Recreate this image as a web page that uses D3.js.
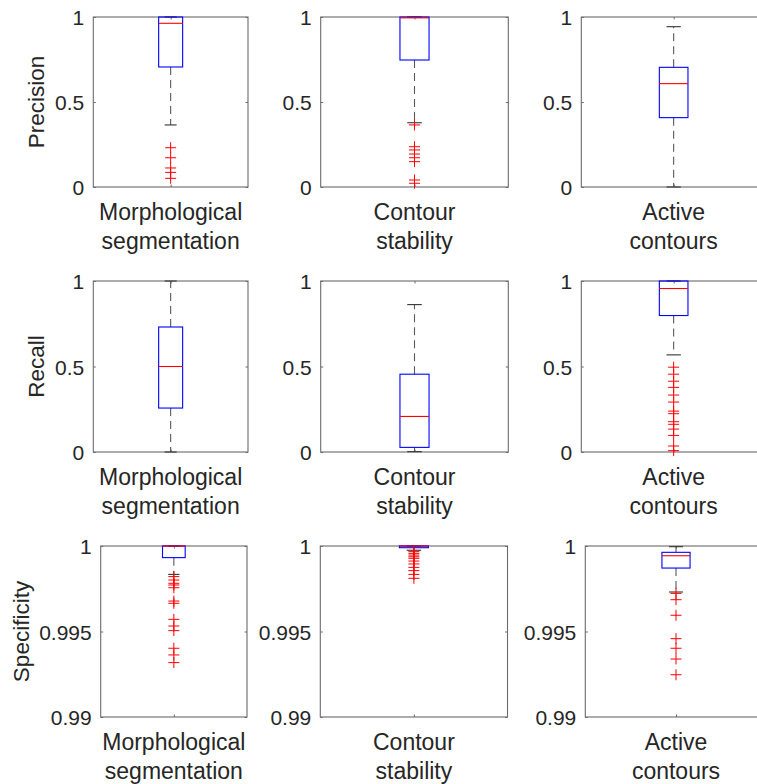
<!DOCTYPE html>
<html><head><meta charset="utf-8">
<script src="https://cdn.jsdelivr.net/npm/d3@7"></script>
<style>
body{margin:0;background:#fff}
svg{display:block}
text{font-family:"Liberation Sans",Arial,Helvetica,sans-serif;fill:#262626}
</style>
</head><body>
<svg id="c" width="757" height="784"></svg>
<script>
// ---------- data ----------
const methodLines = [["Morphological","segmentation"],["Contour","stability"],["Active","contours"]];
const metricNames = ["Precision","Recall","Specificity"];

// box statistics per method: [lower whisker, q1, median, q3, upper whisker]
const precisionStats = [
  [0.365, 0.706, 0.963, 1.0, 1.0],
  [0.378, 0.747, 0.995, 1.0, 1.0],
  [0.0, 0.408, 0.608, 0.704, 0.943]
];
const precisionOutliers = [
  [0.231, 0.172, 0.112, 0.086, 0.051],
  [0.365, 0.237, 0.218, 0.194, 0.172, 0.149, 0.041, 0.022],
  []
];
const recallStats = [
  [0.0, 0.257, 0.500, 0.731, 1.0],
  [0.002, 0.027, 0.208, 0.455, 0.862],
  [0.568, 0.798, 0.956, 1.0, 1.0]
];
const recallOutliers = [
  [],
  [],
  [0.496, 0.455, 0.414, 0.378, 0.333, 0.292, 0.239, 0.224, 0.177, 0.162, 0.134, 0.097, 0.035, 0.008]
];
const specificityStats = [
  [0.99834, 0.99932, 1.0, 1.0, 1.0],
  [0.99975, 0.99990, 1.0, 1.0, 1.0],
  [0.99731, 0.99871, 0.99943, 0.99963, 0.99996]
];
const specificityOutliers = [
  [0.99821, 0.99801, 0.99782, 0.99772, 0.99756, 0.99678, 0.99665, 0.99571, 0.99532, 0.99505, 0.99402, 0.99363, 0.99318],
  [0.99967, 0.99957, 0.99947, 0.99937, 0.99928, 0.99912, 0.99895, 0.99875, 0.99856, 0.99834, 0.99811],
  [0.99723, 0.99686, 0.99595, 0.99458, 0.99402, 0.99339, 0.99247]
];
const rateTicks = [0, 0.5, 1];
const rateTickLabels = ["0", "0.5", "1"];
const specTicks = [0.99, 0.995, 1];
const specTickLabels = ["0.99", "0.995", "1"];

// ---------- layout ----------
const svg = d3.select("#c");
svg.append("rect").attr("width",757).attr("height",784).attr("fill","#fff");

const rows = [
  {stats: precisionStats, out: precisionOutliers, domain:[0,1], ticks: rateTicks, labels: rateTickLabels,
   top: 17, bottom: 187, lefts:[93.3,320.7,581.3], rights:[248,508.3,766], ylabX: 43.5},
  {stats: recallStats, out: recallOutliers, domain:[0,1], ticks: rateTicks, labels: rateTickLabels,
   top: 281, bottom: 452, lefts:[93.3,320.7,581.3], rights:[248,508.3,766], ylabX: 43.5},
  {stats: specificityStats, out: specificityOutliers, domain:[0.99,1], ticks: specTicks, labels: specTickLabels,
   top: 546, bottom: 717, lefts:[100.7,320.3,585.3], rights:[247,507.5,766.7], ylabX: 28.5}
];

const FS = 21;      // tick labels
const FSX = 23;     // category labels
const FSY = 22.5;   // y labels
const axisColor = "#6b6b6b";

rows.forEach((row, r) => {
  const y = d3.scaleLinear().domain(row.domain).range([row.bottom, row.top]);
  // y label
  svg.append("text")
    .attr("transform", `translate(${row.ylabX},${(row.top+row.bottom)/2}) rotate(-90)`)
    .attr("text-anchor","middle")
    .style("font-size", FSY+"px")
    .text(metricNames[r]);

  for (let c = 0; c < 3; c++) {
    const x = d3.scaleLinear().domain([0.5,1.5]).range([row.lefts[c], row.rights[c]]);
    const g = svg.append("g");
    const s = row.stats[c];
    const bw = 0.155/2;   // half box width in x units
    const cw = bw/2;      // half cap width

    // frame
    g.append("rect")
      .attr("x", x(0.5)).attr("y", y(row.domain[1]))
      .attr("width", x(1.5)-x(0.5)).attr("height", y(row.domain[0])-y(row.domain[1]))
      .attr("fill","none").attr("stroke",axisColor).attr("stroke-width",1.1);

    // left axis with labels
    const ax = d3.axisLeft(y).tickValues(row.ticks)
      .tickFormat((d,i)=>row.labels[i]).tickSizeInner(-2.5).tickSizeOuter(0).tickPadding(9);
    const ga = g.append("g").attr("transform",`translate(${x(0.5)},0)`).call(ax);
    ga.select(".domain").remove();
    ga.selectAll("line").attr("stroke",axisColor);
    ga.selectAll("text").style("font-size",FS+"px").attr("fill","#262626").attr("dy","0.36em");
    // right ticks
    const ar = d3.axisRight(y).tickValues(row.ticks).tickFormat("").tickSizeInner(-2.5).tickSizeOuter(0);
    const gr = g.append("g").attr("transform",`translate(${x(1.5)},0)`).call(ar);
    gr.select(".domain").remove();
    gr.selectAll("line").attr("stroke",axisColor);
    // top/bottom ticks
    const ab = d3.axisBottom(x).tickValues([1]).tickFormat("").tickSizeInner(-2.5).tickSizeOuter(0);
    const gb = g.append("g").attr("transform",`translate(0,${row.bottom})`).call(ab);
    gb.select(".domain").remove();
    gb.selectAll("line").attr("stroke",axisColor);
    const at = d3.axisTop(x).tickValues([1]).tickFormat("").tickSizeInner(-2.5).tickSizeOuter(0);
    const gt = g.append("g").attr("transform",`translate(0,${row.top})`).call(at);
    gt.select(".domain").remove();
    gt.selectAll("line").attr("stroke",axisColor);

    // x tick label (two lines)
    const lt = g.append("text").attr("text-anchor","middle").style("font-size",FSX+"px");
    methodLines[c].forEach((ln,i)=>{
      lt.append("tspan").attr("x", x(1)).attr("y", row.bottom + 33 + i*29).text(ln);
    });

    // whiskers (dashed)
    g.append("line").attr("x1",x(1)).attr("x2",x(1)).attr("y1",y(s[3])).attr("y2",y(s[4]))
      .attr("stroke","#5a5a5a").attr("stroke-dasharray","8,5").attr("stroke-width",1.1);
    g.append("line").attr("x1",x(1)).attr("x2",x(1)).attr("y1",y(s[1])).attr("y2",y(s[0]))
      .attr("stroke","#5a5a5a").attr("stroke-dasharray","8,5").attr("stroke-width",1.1);
    // caps
    [s[0], s[4]].forEach(v=>{
      g.append("line").attr("x1",x(1-cw)).attr("x2",x(1+cw)).attr("y1",y(v)).attr("y2",y(v))
        .attr("stroke","#333").attr("stroke-width",1.1);
    });
    // box
    g.append("rect").attr("x",x(1-bw)).attr("y",y(s[3]))
      .attr("width",x(1+bw)-x(1-bw)).attr("height",Math.max(0.5,y(s[1])-y(s[3])))
      .attr("fill","none").attr("stroke","#0000ff").attr("stroke-width",1.1);
    // median
    g.append("line").attr("x1",x(1-bw)).attr("x2",x(1+bw)).attr("y1",y(s[2])).attr("y2",y(s[2]))
      .attr("stroke","#ff0000").attr("stroke-width",1.1);
    // outliers
    const ms = 5.5;
    g.selectAll(".o").data(row.out[c]).enter().append("path")
      .attr("d", d=>`M${x(1)-ms},${y(d)}H${x(1)+ms}M${x(1)},${y(d)-ms}V${y(d)+ms}`)
      .attr("stroke","#ff0000").attr("stroke-width",1).attr("fill","none");
  }
});
</script>
</body></html>
